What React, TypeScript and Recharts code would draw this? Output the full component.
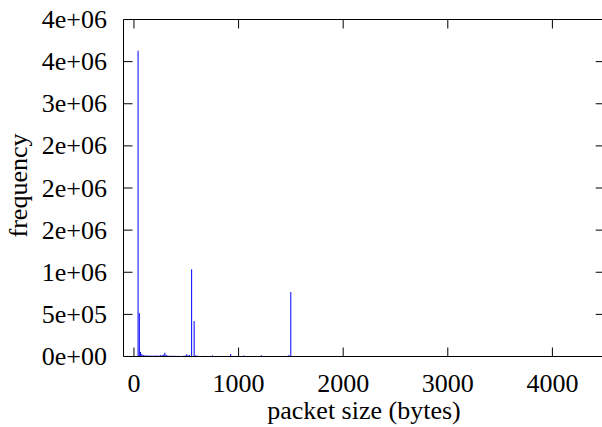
import { BarChart, Bar, XAxis, YAxis } from 'recharts';

// packet size histogram (bytes -> count)
const packetSizes = [
  40, 52, 64, 76, 90, 105, 120, 135, 150, 165, 180, 195, 210, 225, 240, 255, 270, 285, 296, 310,
  325, 340, 355, 370, 385, 400, 415, 430, 445, 460, 475, 490, 505, 518, 532, 552, 576, 590, 605, 620,
  650, 680, 710, 740, 752, 770, 800, 830, 860, 890, 925, 950, 980, 1010, 1050, 1080, 1110, 1140, 1170, 1200,
  1218, 1250, 1280, 1310, 1340, 1370, 1400, 1430, 1460, 1482, 1500,
];
const frequencies = [
  3630000, 515000, 55000, 30000, 18000, 15000, 12000, 14000, 11000, 12000, 10000, 11000, 13000, 10000, 12000, 15000, 18000, 22000, 45000, 20000,
  12000, 9000, 10000, 8000, 9000, 8000, 7000, 8000, 6000, 7000, 8000, 12000, 28000, 14000, 18000, 1035000, 420000, 14000, 10000, 7000,
  6000, 8000, 5000, 6000, 14000, 5000, 7000, 5000, 6000, 7000, 30000, 6000, 5000, 7000, 12000, 5000, 4000, 6000, 5000, 6000,
  15000, 5000, 4000, 5000, 6000, 4000, 5000, 6000, 8000, 18000, 766000,
];

const xTicks = [0, 1000, 2000, 3000, 4000];
const yTicks = [0, 500000, 1000000, 1500000, 2000000, 2500000, 3000000, 3500000, 4000000];
// gnuplot %.0e style labels
const yTickLabels = ['0e+00', '5e+05', '1e+06', '2e+06', '2e+06', '2e+06', '3e+06', '4e+06', '4e+06'];

const data = packetSizes.map((size, i) => ({ size, freq: frequencies[i] }));

const FONT = '"Liberation Serif", "Times New Roman", serif';
const FS = 26;
const TICK = 9;

function BottomTick({ x, y, payload }: any) {
  return (
    <g>
      <line x1={x} y1={y} x2={x} y2={y - TICK} stroke="#000" />
      <text x={x} y={y + 35.5} textAnchor="middle" fontSize={FS} fontFamily={FONT} fill="#000">
        {payload.value}
      </text>
    </g>
  );
}

function TopTick({ x, y }: any) {
  return <line x1={x} y1={y} x2={x} y2={y + TICK} stroke="#000" />;
}

function LeftTick({ x, y, payload, index }: any) {
  const i = yTicks.indexOf(payload.value);
  return (
    <g>
      <line x1={x} y1={y} x2={x + TICK} y2={y} stroke="#000" />
      <text x={x - 16.5} y={y + 8.5} textAnchor="end" fontSize={FS} fontFamily={FONT} fill="#000">
        {yTickLabels[i >= 0 ? i : index]}
      </text>
    </g>
  );
}

function RightTick({ x, y }: any) {
  return <line x1={x} y1={y} x2={x - TICK} y2={y} stroke="#000" />;
}

function Impulse(p: any) {
  if (!p.height) return null;
  return <rect x={p.x + p.width / 2 - 0.5} y={p.y} width={1} height={p.height} fill="#0000ff" />;
}

const axisCommon = {
  allowDataOverflow: true,
  tickSize: 0,
  tickMargin: 0,
  tickLine: false,
  stroke: '#000',
  interval: 0 as const,
};

export default function App() {
  return (
    <div style={{ position: 'absolute', left: 0, top: 0, width: 602, height: 427, overflow: 'hidden', background: '#fff' }}>
      <BarChart
        width={612}
        height={427}
        data={data}
        margin={{ top: 18.5, right: 6.3, bottom: 69.5, left: 122.5 }}
        barCategoryGap={0}
      >
        <XAxis
          {...axisCommon}
          dataKey="size"
          type="number"
          domain={[-100, 4500]}
          ticks={xTicks}
          height={1}
          tick={<BottomTick />}
          label={{
            content: () => (
              <text x={364} y={419} textAnchor="middle" fontSize={FS} fontFamily={FONT} fill="#000">
                packet size (bytes)
              </text>
            ),
          }}
        />
        <XAxis
          {...axisCommon}
          xAxisId="top"
          orientation="top"
          dataKey="size"
          type="number"
          domain={[-100, 4500]}
          ticks={xTicks}
          height={1}
          tick={<TopTick />}
        />
        <YAxis
          {...axisCommon}
          type="number"
          domain={[0, 4000000]}
          ticks={yTicks}
          width={1}
          tick={<LeftTick />}
          label={{
            content: () => (
              <text
                x={0}
                y={0}
                transform="translate(27,185.5) rotate(-90)"
                textAnchor="middle"
                fontSize={FS}
                fontFamily={FONT}
                fill="#000"
              >
                frequency
              </text>
            ),
          }}
        />
        <YAxis
          {...axisCommon}
          yAxisId="right"
          orientation="right"
          type="number"
          domain={[0, 4000000]}
          ticks={yTicks}
          width={1}
          tick={<RightTick />}
        />
        <Bar dataKey="freq" fill="#0000ff" barSize={1} shape={<Impulse />} isAnimationActive={false} />
      </BarChart>
    </div>
  );
}
